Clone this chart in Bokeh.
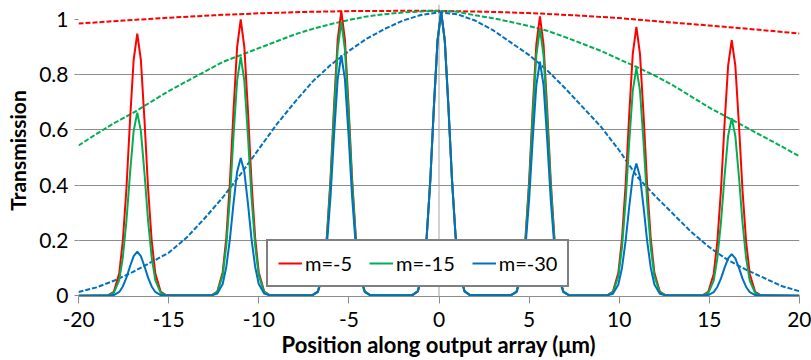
from bokeh.plotting import figure
from bokeh.models import Range1d, FixedTicker, NumeralTickFormatter, CustomJSTickFormatter, Span, Legend, LegendItem
from bokeh.embed import file_html
from bokeh.resources import INLINE

# ---------------- data ----------------
x_ticks = [-20, -15, -10, -5, 0, 5, 10, 15, 20]
y_ticks = [0, 0.2, 0.4, 0.6, 0.8, 1.0]
grid_ticks = [0.2, 0.4, 0.6, 0.8]
series_names = ["m=-5", "m=-15", "m=-30"]
series_colors = ["#FF0000", "#00B050", "#0070C0"]

# peak positions (um) shared by the three series
peak_centers = [-16.74, -11.0, -5.42, 0.12, 5.6, 10.95, 16.24]
# peak heights per series
red_heights = [0.948, 0.999, 1.029, 1.026, 1.01, 0.972, 0.924]
green_heights = [0.662, 0.864, 0.99, 1.026, 0.966, 0.824, 0.642]
blue_heights = [0.159, 0.498, 0.87, 1.026, 0.846, 0.478, 0.15]
# normalised peak profile (offset from centre, relative level)
profile_offsets = [-1.6, -1.3, -1.0, -0.8, -0.6, -0.4, -0.2, 0.0, 0.2, 0.4, 0.6, 0.8, 1.0, 1.3, 1.6]
profile_levels = [0.002, 0.015, 0.085, 0.21, 0.41, 0.67, 0.9, 1.0, 0.9, 0.67, 0.41, 0.21, 0.085, 0.015, 0.002]

# dashed envelopes
red_env_x = [-20, -17.5, -15, -12.5, -10, -7.5, -5, -2.5, 0, 2.5, 5, 7.5, 10, 12.5, 15, 17.5, 20]
red_env_y = [0.984, 0.995, 1.005, 1.014, 1.021, 1.026, 1.029, 1.03, 1.03, 1.027, 1.022, 1.014, 1.004, 0.99, 0.977, 0.963, 0.948]
env_x = [-20, -19, -18, -17, -16, -15, -14, -13, -12, -11, -10, -9, -8, -7, -6, -5, -4, -3, -2, -1, 0,
         1, 2, 3, 4, 5, 6, 7, 8, 9, 10, 11, 12, 13, 14, 15, 16, 17, 18, 19, 20]
green_env_y = [0.543, 0.585, 0.625, 0.66, 0.70, 0.74, 0.775, 0.81, 0.845, 0.87, 0.895, 0.92, 0.945, 0.965,
               0.982, 0.997, 1.01, 1.018, 1.024, 1.028, 1.03,
               1.027, 1.014, 1.003, 0.99, 0.975, 0.958, 0.935, 0.91, 0.885, 0.855, 0.826, 0.795, 0.76,
               0.72, 0.68, 0.645, 0.61, 0.575, 0.54, 0.504]
blue_env_y = [0.013, 0.03, 0.055, 0.085, 0.12, 0.155, 0.21, 0.28, 0.355, 0.44, 0.53, 0.62, 0.70, 0.775,
              0.835, 0.885, 0.93, 0.965, 0.995, 1.015, 1.025,
              1.018, 0.995, 0.96, 0.915, 0.87, 0.815, 0.75, 0.68, 0.61, 0.525, 0.43, 0.36, 0.295,
              0.23, 0.175, 0.13, 0.095, 0.065, 0.035, 0.016]


def build_series(heights):
    xs, ys = [-20.0], [0.0]
    for c, h in zip(peak_centers, heights):
        for o, lv in zip(profile_offsets, profile_levels):
            xs.append(c + o)
            ys.append(h * lv)
    xs.append(20.0)
    ys.append(0.0)
    return xs, ys


FONT = "Lato"

p = figure(width=811, height=360, output_backend="svg", toolbar_location=None,
           x_range=Range1d(-20, 20), y_range=Range1d(-0.003, 1.053),
           min_border_left=78, min_border_right=12, min_border_top=4, min_border_bottom=62)
p.outline_line_color = None
p.background_fill_color = "white"

# grid
p.xgrid.visible = False
p.ygrid.ticker = FixedTicker(ticks=grid_ticks)
p.ygrid.grid_line_color = "#8C8C8C"
p.ygrid.grid_line_width = 1

# vertical axis line at x = 0
p.add_layout(Span(location=0, dimension="height", line_color="#A6A6A6", line_width=1, level="underlay"))

# axes
p.xaxis.ticker = FixedTicker(ticks=x_ticks)
p.xaxis.formatter = CustomJSTickFormatter(code="return tick.toString();")
p.xaxis.axis_line_color = "#8C8C8C"
p.xaxis.major_tick_line_color = "#8C8C8C"
p.xaxis.major_tick_out = 7
p.xaxis.major_tick_in = 0
p.xaxis.minor_tick_line_color = None
p.xaxis.major_label_text_font = FONT
p.xaxis.major_label_text_font_size = "21px"
p.xaxis.major_label_text_color = "black"
p.xaxis.major_label_standoff = 8
p.xaxis.axis_label = "Position along output array (\u03bcm)"
p.xaxis.axis_label_text_font = FONT
p.xaxis.axis_label_text_font_style = "bold"
p.xaxis.axis_label_text_font_size = "22px"
p.xaxis.axis_label_text_color = "black"
p.xaxis.axis_label_standoff = 1

p.yaxis.ticker = FixedTicker(ticks=y_ticks)
p.yaxis.formatter = NumeralTickFormatter(format="0.[0]")
p.yaxis.axis_line_color = None
p.yaxis.major_tick_line_color = "#8C8C8C"
p.yaxis.major_tick_out = 4
p.yaxis.major_tick_in = 0
p.yaxis.minor_tick_line_color = None
p.yaxis.major_label_text_font = FONT
p.yaxis.major_label_text_font_size = "21px"
p.yaxis.major_label_text_color = "black"
p.yaxis.major_label_standoff = 6
p.yaxis.axis_label = "Transmission"
p.yaxis.axis_label_text_font = FONT
p.yaxis.axis_label_text_font_style = "bold"
p.yaxis.axis_label_text_font_size = "21px"
p.yaxis.axis_label_text_color = "black"
p.yaxis.axis_label_standoff = 6

# dashed envelopes
p.line(red_env_x, red_env_y, line_color=series_colors[0], line_width=2, line_dash="5 2")
p.line(env_x, green_env_y, line_color=series_colors[1], line_width=2, line_dash="5 2")
p.line(env_x, blue_env_y, line_color=series_colors[2], line_width=2, line_dash="5 2")

# transmission curves
renderers = []
for heights, color in zip([red_heights, green_heights, blue_heights], series_colors):
    xs, ys = build_series(heights)
    renderers.append(p.line(xs, ys, line_color=color, line_width=2))

legend = Legend(items=[LegendItem(label=n, renderers=[r]) for n, r in zip(series_names, renderers)],
                location=(188, 9), orientation="horizontal",
                border_line_color="black", border_line_width=2, background_fill_color="white",
                background_fill_alpha=1, label_text_font=FONT, label_text_font_size="20px",
                label_text_color="black", glyph_width=24, glyph_height=20, label_standoff=3,
                spacing=17, padding=10, margin=0)
p.add_layout(legend)

open("out.html", "w").write(file_html(p, INLINE))
